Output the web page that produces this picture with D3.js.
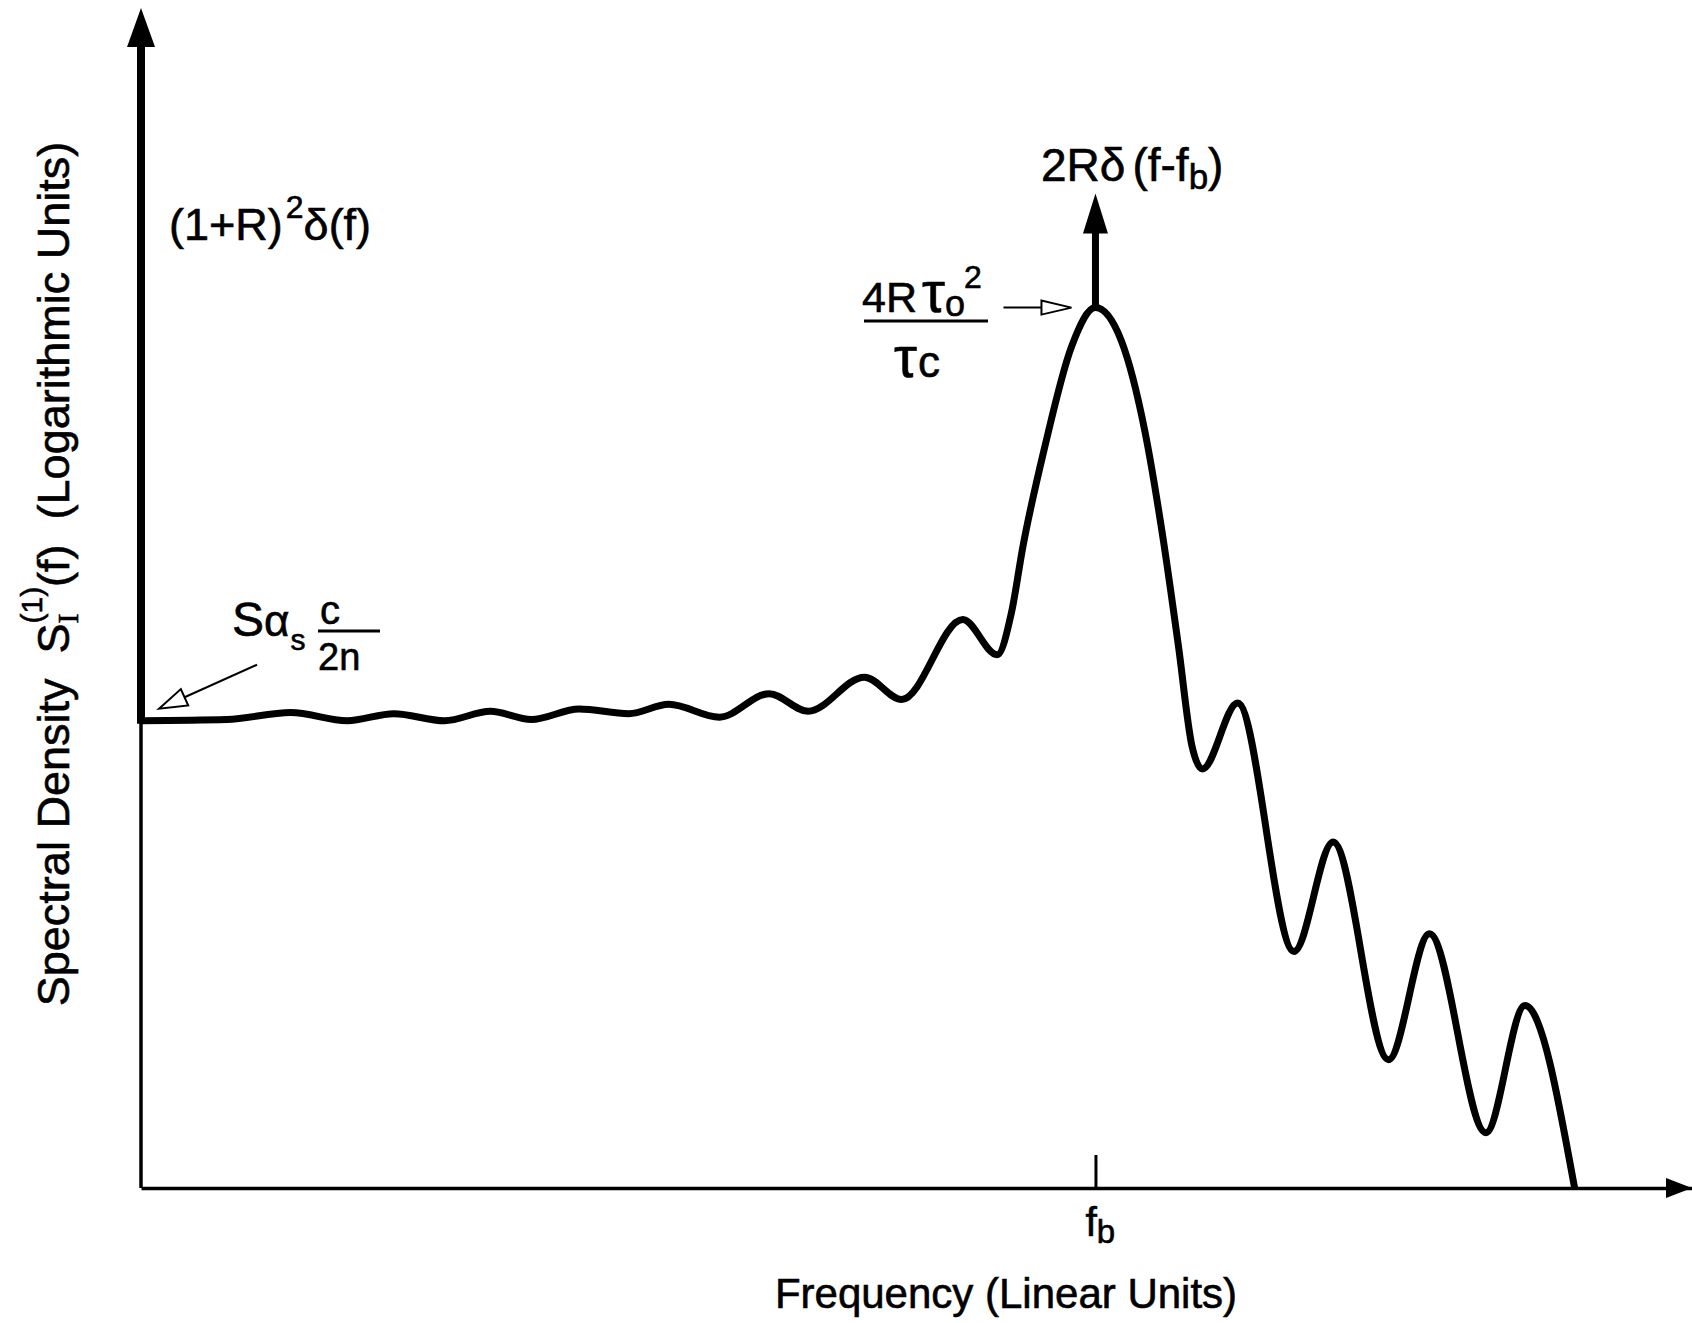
<!DOCTYPE html>
<html>
<head>
<meta charset="utf-8">
<script src="https://cdn.jsdelivr.net/npm/d3@7"></script>
<style>
  html, body { margin: 0; padding: 0; background: #fff; }
  svg text { font-family: "Liberation Sans", Arial, Helvetica, sans-serif; fill: #000; stroke: #000; stroke-width: 0.6; white-space: pre; }
</style>
</head>
<body>
<svg id="chart"></svg>
<script>
// frequency in units of the beat frequency fb, spectral density in log units
const freq = [0, 0.09, 0.157, 0.216, 0.265, 0.318, 0.366, 0.409, 0.459, 0.511, 0.553, 0.606,
  0.658, 0.699, 0.758, 0.797, 0.861, 0.897, 0.912, 0.924, 0.947, 0.975, 1.0,
  1.027, 1.052, 1.071, 1.087, 1.101, 1.112, 1.149, 1.208, 1.249, 1.307, 1.350,
  1.409, 1.450, 1.502];
const density = [3.97, 3.98, 4.04, 3.97, 4.03, 3.97, 4.05, 3.98, 4.07, 4.03, 4.11, 4.00,
  4.20, 4.05, 4.34, 4.15, 4.83, 4.53, 4.89, 5.45, 6.30, 7.15, 7.48,
  7.20, 6.42, 5.51, 4.60, 3.76, 3.56, 4.12, 2.01, 2.94, 1.09, 2.16,
  0.47, 1.55, 0];

const fb = 1;            // beat frequency, the only tick
const freqMax = 1.625;
const densityMax = 10;   // the dc delta spike runs to the top of the axis
const beatDelta = 8.45;  // height of the 2R delta(f-fb) spike

const width = 1692, height = 1323;

const svg = d3.select("#chart")
  .attr("width", width)
  .attr("height", height)
  .attr("viewBox", `0 0 ${width} ${height}`);

svg.append("rect").attr("width", width).attr("height", height).attr("fill", "#fff");

const x = d3.scaleLinear().domain([0, freqMax]).range([141, 1692]);
const y = d3.scaleLinear().domain([0, densityMax]).range([1188, 11]);

const pts = freq.map((f, i) => ({ f, s: density[i] }));
const peak = pts[d3.maxIndex(pts, d => d.s)];

// x axis with the single fb tick pointing up
const xAxis = svg.append("g")
  .attr("transform", `translate(0,${y(0)})`)
  .call(d3.axisBottom(x).tickValues([fb]).tickSize(-33).tickSizeOuter(0).tickFormat(""));
xAxis.select(".domain").attr("stroke", "#000").attr("stroke-width", 3.5);
xAxis.selectAll(".tick line").attr("stroke", "#000").attr("stroke-width", 3);

function filledHead(tip, dir, len, half) {
  // dir: unit vector pointing toward the tip
  const bx = tip[0] - dir[0] * len, by = tip[1] - dir[1] * len;
  const px = -dir[1] * half, py = dir[0] * half;
  return [[tip[0], tip[1]], [bx + px, by + py], [bx - px, by - py]];
}

svg.append("polygon")
  .attr("points", filledHead([x(freqMax), y(0)], [1, 0], 26, 10).join(" "))
  .attr("fill", "#000");

// y axis: thin below the continuum, thick (dc delta) above it
svg.append("line")
  .attr("x1", x(0)).attr("x2", x(0))
  .attr("y1", y(0)).attr("y2", y(density[0]))
  .attr("stroke", "#000").attr("stroke-width", 3.5);
svg.append("line")
  .attr("x1", x(0)).attr("x2", x(0))
  .attr("y1", y(density[0]) + 3).attr("y2", y(densityMax) + 30)
  .attr("stroke", "#000").attr("stroke-width", 8);
svg.append("polygon")
  .attr("points", filledHead([x(0), y(densityMax) - 3], [0, -1], 39, 14).join(" "))
  .attr("fill", "#000");

// beat delta spike on top of the peak
svg.append("line")
  .attr("x1", x(fb)).attr("x2", x(fb))
  .attr("y1", y(peak.s)).attr("y2", y(beatDelta) + 30)
  .attr("stroke", "#000").attr("stroke-width", 7);
svg.append("polygon")
  .attr("points", filledHead([x(fb), y(beatDelta)], [0, -1], 40, 12.5).join(" "))
  .attr("fill", "#000");

// spectrum
const line = d3.line()
  .x(d => x(d.f))
  .y(d => y(d.s))
  .curve(d3.curveMonotoneX);

svg.append("path")
  .datum(pts)
  .attr("d", line)
  .attr("fill", "none")
  .attr("stroke", "#000")
  .attr("stroke-width", 7)
  .attr("stroke-linejoin", "round");

// open arrows
function openArrow(from, tip, len, half) {
  const dx = tip[0] - from[0], dy = tip[1] - from[1];
  const L = Math.hypot(dx, dy);
  const u = [dx / L, dy / L];
  const base = [tip[0] - u[0] * len, tip[1] - u[1] * len];
  svg.append("line")
    .attr("x1", from[0]).attr("y1", from[1])
    .attr("x2", base[0]).attr("y2", base[1])
    .attr("stroke", "#000").attr("stroke-width", 2);
  svg.append("polygon")
    .attr("points", filledHead(tip, u, len, half).join(" "))
    .attr("fill", "#fff").attr("stroke", "#000").attr("stroke-width", 2)
    .attr("stroke-linejoin", "miter");
}

openArrow([x(fb) - 92, y(peak.s)], [x(fb) - 24, y(peak.s)], 30, 7);
openArrow([x(0) + 116, y(density[0]) - 56], [x(0) + 18, y(density[0]) - 12], 28, 9);

// labels
const dcLabel = svg.append("text").attr("x", 169).attr("y", 240).attr("font-size", 45);
dcLabel.append("tspan").text("(1+R)");
dcLabel.append("tspan").attr("font-size", 32).attr("dy", -22).attr("dx", 3).text("2");
dcLabel.append("tspan").attr("dy", 22).text("δ(f)");

const beatLabel = svg.append("text").attr("x", 1041).attr("y", 181).attr("font-size", 46);
beatLabel.append("tspan").text("2Rδ");
beatLabel.append("tspan").attr("dx", 7).text("(f-f");
beatLabel.append("tspan").attr("font-size", 35).attr("dy", 8).text("b");
beatLabel.append("tspan").attr("dy", -8).text(")");

const num = svg.append("text").attr("x", 862).attr("y", 312).attr("font-size", 43);
num.append("tspan").text("4R");
num.append("tspan").attr("font-size", 58).attr("dx", 5).text("τ");
num.append("tspan").attr("font-size", 36).attr("dy", 4).text("o");
num.append("tspan").attr("font-size", 32).attr("dx", -1).attr("dy", -28).text("2");
svg.append("line")
  .attr("x1", 864).attr("x2", 988).attr("y1", 321).attr("y2", 321)
  .attr("stroke", "#000").attr("stroke-width", 3);
const den = svg.append("text").attr("x", 894).attr("y", 377).attr("font-size", 58);
den.append("tspan").text("τ");
den.append("tspan").attr("font-size", 44).attr("dx", 1).text("c");

const contLabel = svg.append("text").attr("x", 232).attr("y", 636).attr("font-size", 48);
contLabel.append("tspan").text("S");
contLabel.append("tspan").attr("font-size", 44).text("α");
contLabel.append("tspan").attr("font-size", 30).attr("dy", 14).attr("dx", 1).text("s");
svg.append("text").attr("x", 320).attr("y", 624).attr("font-size", 40).text("c");
svg.append("line")
  .attr("x1", 318).attr("x2", 380).attr("y1", 631).attr("y2", 631)
  .attr("stroke", "#000").attr("stroke-width", 3);
svg.append("text").attr("x", 318).attr("y", 670).attr("font-size", 38).text("2n");

const fbLabel = svg.append("text").attr("x", x(fb) - 10).attr("y", 1236).attr("font-size", 41);
fbLabel.append("tspan").text("f");
fbLabel.append("tspan").attr("font-size", 33).attr("dy", 7).text("b");

svg.append("text")
  .attr("x", 1006).attr("y", 1308)
  .attr("text-anchor", "middle")
  .attr("font-size", 42)
  .text("Frequency (Linear Units)");

const yLabel = svg.append("text")
  .attr("transform", "translate(69,574) rotate(-90)")
  .attr("text-anchor", "middle")
  .attr("font-size", 45);
yLabel.append("tspan").text("Spectral Density  S");
yLabel.append("tspan").attr("font-family", "Liberation Serif").attr("font-size", 30).attr("dy", 9).text("I");
yLabel.append("tspan").attr("font-size", 30).attr("dx", -10).attr("dy", -36).text("(1)");
yLabel.append("tspan").attr("dy", 27).text("(f)  (Logarithmic Units)");
</script>
</body>
</html>
